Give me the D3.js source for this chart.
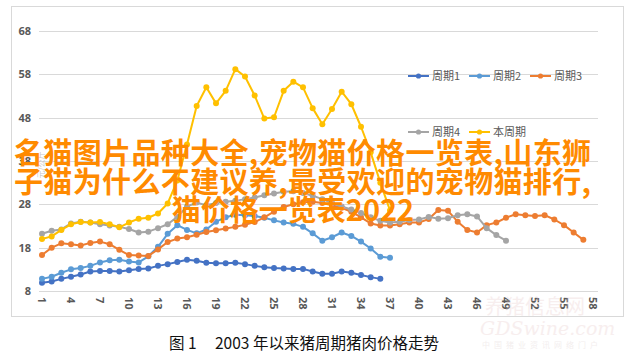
<!DOCTYPE html>
<html><head><meta charset="utf-8">
<script src="https://cdn.jsdelivr.net/npm/d3@7/dist/d3.min.js"></script>
<style>body{margin:0;background:#fff;}svg{display:block;}</style>
</head><body>
<svg id="c" width="634" height="358"></svg>
<script>
const periods = d3.range(1, 59);
const xTickLabels = [1,4,7,10,13,16,19,22,25,28,31,34,37,40,43,46,49,52,55,58];
const yTicks = [8,18,28,38,48,58,68];
const seriesNames = ["周期1","周期2","周期3","周期4","本周期"];
const cycle1 = [9.9,10.2,10.8,11.3,11.8,12.5,12.6,12.6,12.5,12.8,13.1,13.2,13.8,14.2,14.7,15.2,15.0,14.5,14.4,14.4,14.5,14.2,13.8,13.5,13.3,13.2,13.1,13.1,12.5,12.0,12.0,12.5,12.2,11.7,11.2,10.8];
const cycle2 = [10.8,11.3,12.2,13.0,13.3,13.8,14.6,15.1,15.2,14.8,14.6,16.0,18.2,21.2,23.2,22.1,21.3,22.2,24.0,25.0,25.6,25.5,25.3,24.9,24.3,23.8,23.5,22.8,21.3,19.6,20.4,21.5,20.7,19.4,17.8,15.9,15.7];
const cycle3 = [16.3,18.0,19.0,18.8,18.5,19.1,19.4,18.8,17.5,16.3,16.2,16.1,17.6,19.3,20.1,20.4,21.0,21.6,22.0,22.4,22.8,23.3,23.9,25.0,26.3,27.4,28.0,28.5,28.6,28.3,27.8,27.2,26.3,25.0,23.6,23.1,23.1,23.4,23.8,23.8,24.6,26.7,26.5,24.0,22.1,21.5,23.2,23.8,24.9,25.7,25.5,25.3,25.5,24.5,23.2,21.5,19.8];
const cycle4 = [21.2,21.9,22.2,23.6,24.0,23.8,23.4,23.1,22.8,22.3,21.5,21.7,22.5,23.4,25.1,27.5,28.4,27.8,28.3,28.6,28.8,29.2,29.6,30.1,30.5,30.9,31.0,30.6,30.0,29.2,28.3,27.5,26.8,26.0,25.0,24.2,23.8,24.0,24.4,24.5,25.1,24.7,24.8,25.5,25.7,25.2,22.5,20.9,19.6];
const current = [20.0,20.6,22.1,23.4,23.9,23.8,23.9,23.4,22.7,23.8,24.7,24.9,25.9,28.2,33.5,41.8,50.7,55.0,51.3,54.2,59.2,57.5,53.1,47.8,48.1,54.2,56.3,55.0,50.2,46.5,50.0,54.0,51.1,45.9,40.0,33.0,26.6];
const seriesData = [cycle1, cycle2, cycle3, cycle4, current];
const colors = ["#4472C4","#5B9BD5","#ED7D31","#A5A5A5","#FFC000"];
const captionLabel = "图 1";
const captionText = "2003 年以来猪周期猪肉价格走势";
const overlayLines = ["名猫图片品种大全,宠物猫价格一览表,山东狮","子猫为什么不建议养,最受欢迎的宠物猫排行,","猫价格一览表2022"];

const svg = d3.select("#c");
const FONT = "'Noto Sans CJK SC','Noto Sans',sans-serif";

svg.append("rect").attr("x",11.5).attr("y",6.5).attr("width",612).attr("height",310)
  .attr("fill","#fff").attr("stroke","#d9d9d9");

const x = d3.scalePoint().domain(periods).range([42, 593]);
const y = d3.scaleLinear().domain([8, 68]).range([291, 31]);

// gridlines
svg.append("g").selectAll("line").data(yTicks).join("line")
  .attr("x1",39).attr("x2",598).attr("y1",d=>Math.round(y(d))+0.5).attr("y2",d=>Math.round(y(d))+0.5)
  .attr("stroke","#d9d9d9").attr("stroke-width",1);

// y axis labels
const yAxis = d3.axisLeft(y).tickValues(yTicks).tickSize(0).tickPadding(0);
const gy = svg.append("g").attr("transform","translate(31,0)").call(yAxis);
gy.select(".domain").remove();
gy.selectAll("text").attr("font-family","'Open Sans',sans-serif").attr("font-size",11)
  .attr("font-weight","bold").attr("fill","#595959");

// x axis labels
const xAxis = d3.axisBottom(x).tickValues(xTickLabels).tickSize(0).tickPadding(0);
const gx = svg.append("g").attr("transform","translate(0,291)").call(xAxis);
gx.select(".domain").remove();
gx.selectAll("text").attr("font-family","'Open Sans',sans-serif").attr("font-size",11)
  .attr("font-weight","bold").attr("fill","#595959")
  .attr("text-anchor","start").attr("dy",null).attr("y",0)
  .attr("dominant-baseline","central")
  .attr("transform","translate(0,6) rotate(90)");

// faint axis title
svg.append("text").attr("transform","translate(44,165) rotate(-90)")
  .attr("text-anchor","middle").attr("font-family",FONT).attr("font-size",8)
  .attr("fill","#c8c8c8").text("元/公斤");

// series
const line = d3.line().x((d,i)=>x(i+1)).y(d=>y(d));
seriesData.forEach((arr, k) => {
  const g = svg.append("g");
  g.append("path").datum(arr).attr("d",line).attr("fill","none")
    .attr("stroke",colors[k]).attr("stroke-width",2).attr("stroke-linejoin","round");
  g.selectAll("circle").data(arr).join("circle")
    .attr("cx",(d,i)=>x(i+1)).attr("cy",d=>y(d)).attr("r",3).attr("fill",colors[k]);
});

// legend
const legendPos = [[408,76],[469,76],[530,76],[408,132],[469,132]];
seriesNames.forEach((n,k)=>{
  const [lx,ly] = legendPos[k];
  const g = svg.append("g").attr("transform",`translate(${lx},${ly})`);
  g.append("line").attr("x1",0).attr("x2",21).attr("stroke",colors[k]).attr("stroke-width",2);
  g.append("circle").attr("cx",10.5).attr("r",2.6).attr("fill",colors[k]);
  g.append("text").attr("x",24).attr("dy","0.35em").attr("font-family",FONT).attr("font-size",11)
    .attr("fill","#595959").text(n);
});

// watermark
const wm = svg.append("g").attr("opacity",0.3);
wm.append("text").attr("x",485).attr("y",314).attr("font-family",FONT).attr("font-size",20)
  .attr("fill","#e8c8c8").text("养猪信息网");
wm.append("text").attr("x",480).attr("y",335).attr("font-family","'DejaVu Serif',serif").attr("font-style","italic")
  .attr("font-size",19).attr("fill","#e8c8c8").text("GDSwine.com");
wm.append("text").attr("x",482).attr("y",348).attr("font-family",FONT).attr("font-size",8)
  .attr("letter-spacing",4).attr("fill","#d8c8c8").text("中国猪业资讯网络门户");

// caption
svg.append("text").attr("x",169).attr("y",349).attr("font-family",FONT).attr("font-size",15.5)
  .attr("fill","#111").text(captionLabel);
svg.append("text").attr("x",215).attr("y",349).attr("font-family",FONT).attr("font-size",15.5)
  .attr("fill","#111").text(captionText);

// overlay title
const ov = svg.append("g").attr("font-family",FONT).attr("font-weight","bold").attr("font-size",29)
  .attr("fill","#FF8A00");
const ovY = [164, 193, 221];
overlayLines.forEach((t,i)=>{
  const tx = ov.append("text").attr("y",ovY[i]).text(t);
  if (i < 2) tx.attr("x",14).attr("textLength",577).attr("lengthAdjust","spacing");
  else tx.attr("x",293).attr("text-anchor","middle");
});
</script>
</body></html>
